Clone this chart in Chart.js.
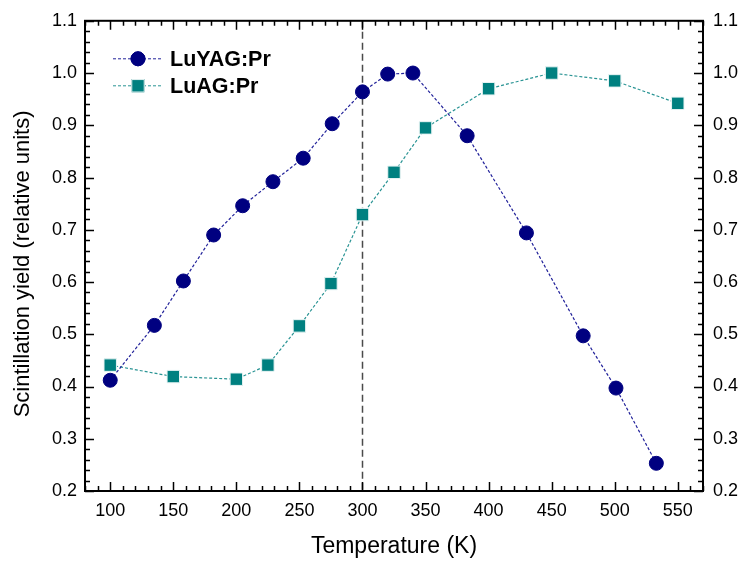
<!DOCTYPE html>
<html>
<head>
<meta charset="utf-8">
<script src="https://cdn.jsdelivr.net/npm/chart.js@4.4.1/dist/chart.umd.min.js"></script>
<style>
    body { margin: 0; background: #fff; }
    .wrap { width: 740px; height: 561px; position: relative; }
</style>
</head>
<body>
<div class="wrap"><canvas id="chart"></canvas></div>
<script>
// data
const luyagTemp  = [100, 135, 158, 182, 205, 229, 253, 276, 300, 320, 340, 383, 430, 475, 501, 533];
const luyagYield = [0.412, 0.517, 0.602, 0.690, 0.746, 0.792, 0.837, 0.903, 0.964, 0.998, 1.000, 0.880, 0.694, 0.497, 0.397, 0.253];
const luagTemp   = [100, 150, 200, 225, 250, 275, 300, 325, 350, 400, 450, 500, 550];
const luagYield  = [0.441, 0.419, 0.414, 0.441, 0.516, 0.597, 0.729, 0.810, 0.895, 0.970, 1.000, 0.985, 0.942];

const xTicks = [100, 150, 200, 250, 300, 350, 400, 450, 500, 550];
const yTicks = [0.2, 0.3, 0.4, 0.5, 0.6, 0.7, 0.8, 0.9, 1.0, 1.1];
const xRange = [80, 570];
const yRange = [0.2, 1.1];
const markerTemp = 300;   // dashed vertical reference

const FONT = "'Liberation Sans', Arial, sans-serif";

const toPoints = (xs, ys) => xs.map((x, i) => ({ x: x, y: ys[i] }));

// dashed vertical line at room temperature, behind the markers
const refLine = {
    id: 'refLine',
    beforeDatasetsDraw(chart) {
        const { ctx, chartArea: a, scales: { x } } = chart;
        const px = Math.round(x.getPixelForValue(markerTemp)) + 0.5;
        ctx.save();
        ctx.strokeStyle = '#4a4a4a';
        ctx.lineWidth = 1.5;
        ctx.setLineDash([7, 4]);
        ctx.beginPath();
        ctx.moveTo(px, a.top);
        ctx.lineTo(px, a.bottom);
        ctx.stroke();
        ctx.restore();
    }
};

// box frame with inward major/minor ticks on all four sides, plus y title
const frameTicks = {
    id: 'frameTicks',
    afterDraw(chart) {
        const { ctx, chartArea: a, scales: { x, y } } = chart;
        ctx.save();
        ctx.strokeStyle = '#000';
        ctx.lineWidth = 1.5;
        ctx.beginPath();
        for (let t = xRange[0]; t <= xRange[1]; t += 10) {
            const px = Math.round(x.getPixelForValue(t)) + 0.5;
            const len = t % 50 === 0 ? 9 : 5;
            ctx.moveTo(px, a.bottom); ctx.lineTo(px, a.bottom - len);
            ctx.moveTo(px, a.top);    ctx.lineTo(px, a.top + len);
        }
        for (let i = 0; i <= 45; i++) {
            const py = Math.round(y.getPixelForValue(yRange[0] + i * 0.02)) + 0.5;
            const len = i % 5 === 0 ? 9 : 5;
            ctx.moveTo(a.left, py);  ctx.lineTo(a.left + len, py);
            ctx.moveTo(a.right, py); ctx.lineTo(a.right - len, py);
        }
        ctx.stroke();
        ctx.lineWidth = 2;
        ctx.strokeRect(a.left, a.top, a.width, a.height);

        // y title sits a little below the axis centre in the original
        ctx.translate(23, (a.top + a.bottom) / 2 + 8);
        ctx.rotate(-Math.PI / 2);
        ctx.fillStyle = '#000';
        ctx.font = '22px ' + FONT;
        ctx.textAlign = 'center';
        ctx.textBaseline = 'middle';
        ctx.fillText('Scintillation yield (relative units)', 0, 0);
        ctx.restore();
    }
};

// legend inside the plot, line + marker + bold label
const innerLegend = {
    id: 'innerLegend',
    afterDatasetsDraw(chart) {
        const { ctx, chartArea: a } = chart;
        ctx.save();
        chart.data.datasets.forEach((ds, i) => {
            const y0 = a.top + 38 + i * 27;
            const x0 = a.left + 28, x1 = a.left + 78, xm = (x0 + x1) / 2;
            ctx.strokeStyle = ds.borderColor;
            ctx.lineWidth = 1;
            ctx.setLineDash([3, 2]);
            ctx.beginPath();
            ctx.moveTo(x0, y0); ctx.lineTo(x1, y0);
            ctx.stroke();
            ctx.setLineDash([]);
            Chart.helpers.drawPoint(ctx, {
                pointStyle: ds.pointStyle,
                radius: ds.pointRadius,
                borderWidth: ds.pointBorderWidth
            }, xm, y0);
            ctx.fillStyle = ds.pointBackgroundColor;
            ctx.strokeStyle = ds.pointBorderColor;
            ctx.lineWidth = ds.pointBorderWidth;
            ctx.fill();
            if (ds.pointBorderWidth) ctx.stroke();
            ctx.fillStyle = '#000';
            ctx.font = 'bold 21.5px ' + FONT;
            ctx.textBaseline = 'middle';
            ctx.fillText(ds.label, x1 + 7, y0 + 1);
        });
        ctx.restore();
    }
};

const yTickCfg = {
    font: { family: FONT, size: 18 },
    color: '#000',
    callback: v => v.toFixed(1)
};

new Chart(document.getElementById('chart'), {
    type: 'scatter',
    data: {
        datasets: [{
            label: 'LuYAG:Pr',
            data: toPoints(luyagTemp, luyagYield),
            showLine: true,
            borderColor: '#22229a',
            borderWidth: 1.2,
            borderDash: [3, 2],
            pointStyle: 'circle',
            pointRadius: 7,
            pointBorderWidth: 1,
            pointBackgroundColor: '#000080',
            pointBorderColor: '#000080'
        }, {
            label: 'LuAG:Pr',
            data: toPoints(luagTemp, luagYield),
            showLine: true,
            borderColor: '#2a9494',
            borderWidth: 1.2,
            borderDash: [3, 2],
            pointStyle: 'rect',
            pointRadius: 8.8,
            pointBorderWidth: 1,
            pointBackgroundColor: '#008080',
            pointBorderColor: '#e8f4f4'
        }]
    },
    options: {
        responsive: true,
        maintainAspectRatio: false,
        animation: false,
        layout: { padding: { top: 19, left: 0, right: 0, bottom: 0 } },
        plugins: {
            legend: { display: false },
            tooltip: { enabled: false }
        },
        scales: {
            x: {
                type: 'linear',
                min: xRange[0], max: xRange[1],
                afterBuildTicks: s => { s.ticks = xTicks.map(v => ({ value: v })); },
                afterFit: s => { s.height = 70; },
                grid: { display: false, drawTicks: false },
                border: { display: false },
                ticks: { font: { family: FONT, size: 18 }, color: '#000', padding: 9, maxRotation: 0 },
                title: {
                    display: true, text: 'Temperature (K)', color: '#000',
                    font: { family: FONT, size: 23 }, padding: { top: 0, bottom: 1 }
                }
            },
            y: {
                position: 'left',
                min: yRange[0], max: yRange[1],
                afterBuildTicks: s => { s.ticks = yTicks.map(v => ({ value: v })); },
                afterFit: s => { s.width = 85; },
                grid: { display: false, drawTicks: false },
                border: { display: false },
                ticks: Object.assign({ padding: 8 }, yTickCfg)
            },
            y2: {
                position: 'right',
                min: yRange[0], max: yRange[1],
                afterBuildTicks: s => { s.ticks = yTicks.map(v => ({ value: v })); },
                afterFit: s => { s.width = 37; },
                grid: { display: false, drawTicks: false },
                border: { display: false },
                ticks: Object.assign({ padding: 10 }, yTickCfg)
            }
        }
    },
    plugins: [refLine, innerLegend, frameTicks]
});
</script>
</body>
</html>
